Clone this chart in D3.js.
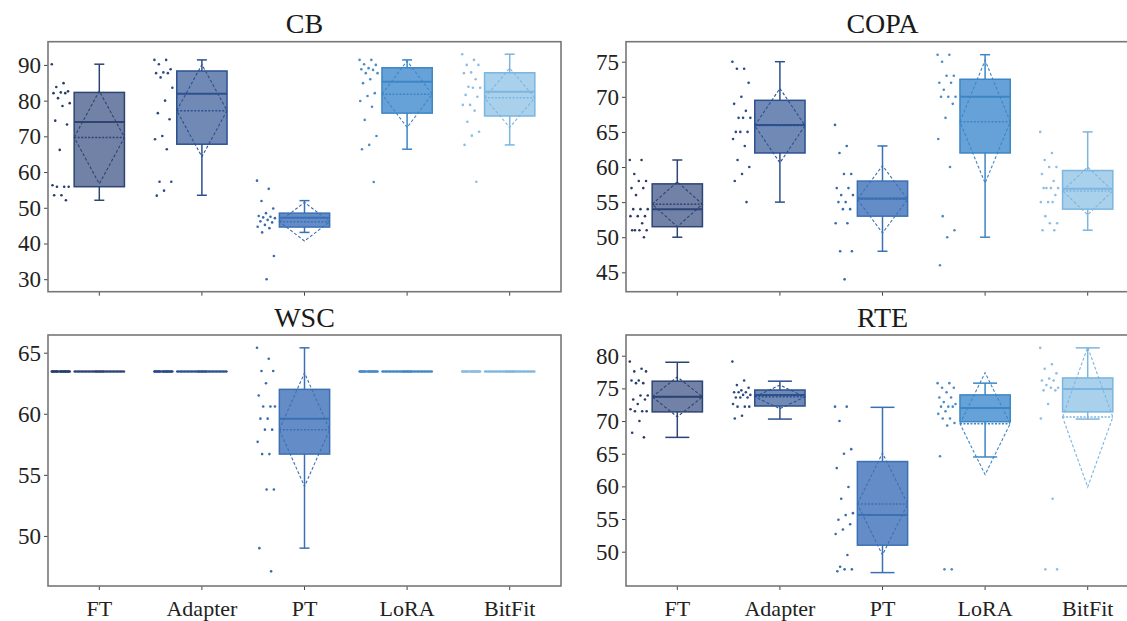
<!DOCTYPE html>
<html>
<head>
<meta charset="utf-8">
<script src="https://cdn.jsdelivr.net/npm/d3@7"></script>
<style>
  body { margin: 0; background: #fff; }
  svg { display: block; }
  text { font-family: "Liberation Serif", "Times New Roman", serif; }
</style>
</head>
<body>
<svg id="chart"></svg>
<script>
const methods = ["FT", "Adapter", "PT", "LoRA", "BitFit"];

// CB
const cbTicks = [30, 40, 50, 60, 70, 80, 90];
const cbScores = [
    [90.2, 84.9, 83.8, 82.6, 82.3, 82.1, 82.1, 80.7, 79.3, 78.5, 74.4, 73.3, 66.2, 56.3, 55.9, 55.9, 55.9, 53.5, 53.5, 52.1],
    [91.4, 91.4, 90.2, 88.8, 87.9, 87.7, 87.7, 86.5, 83.6, 80.0, 76.5, 74.8, 70.1, 69.2, 66.4, 57.3, 57.3, 54.8, 53.4],
    [57.6, 55.3, 51.9, 49.8, 48.5, 47.7, 47.5, 47.3, 47.1, 46.6, 46.2, 45.9, 45.2, 44.7, 44.3, 43.1, 36.5, 30.0],
    [91.4, 91.4, 90.2, 90.0, 89.1, 88.8, 88.6, 87.7, 87.7, 86.0, 84.9, 82.1, 81.3, 79.9, 78.3, 74.6, 70.1, 67.6, 66.4, 57.2],
    [93.0, 91.4, 90.0, 90.0, 87.9, 87.7, 86.0, 83.9, 83.6, 83.6, 81.6, 81.1, 78.8, 78.8, 77.2, 74.1, 71.3, 70.2, 67.6, 57.3]
];
const cbLow = [52.1, 53.5, 43.1, 66.4, 67.6];
const cbQ1 = [55.9, 67.8, 44.6, 76.5, 75.7];
const cbMedian = [74.0, 81.9, 47.2, 85.3, 82.5];
const cbMean = [69.7, 77.2, 46.1, 81.8, 80.8];
const cbQ3 = [82.3, 88.3, 48.5, 89.2, 87.8];
const cbHigh = [90.2, 91.4, 52.0, 91.4, 93.0];
const cbSpread = [13.0, 12.9, 5.4, 9.3, 8.3];

// COPA
const copaTicks = [45, 50, 55, 60, 65, 70, 75];
const copaScores = [
    [61, 61, 59, 58, 58, 57, 57, 56, 54, 54, 54, 53, 53, 53, 52, 51, 51, 51, 51, 50],
    [75, 74, 74, 72, 70, 69, 68, 67, 67, 67, 65, 65, 65, 64, 63, 61, 60, 59, 58, 55],
    [66, 63, 62, 59, 59, 57, 57, 56, 56, 55, 55, 54, 54, 52, 52, 48, 48, 44],
    [76, 76, 75, 73, 73, 72, 72, 71, 70, 70, 70, 69, 67, 64, 60, 53, 51, 50, 46],
    [65, 62, 61, 60, 60, 59, 58, 57, 57, 57, 57, 56, 55, 55, 55, 53, 52, 52, 51, 51]
];
const copaLow = [50, 55, 48, 50, 51];
const copaQ1 = [51.5, 62, 53, 62, 54];
const copaMedian = [54, 66, 55.5, 70, 56.9];
const copaMean = [54.7, 65.9, 55.4, 66.45, 56.6];
const copaQ3 = [57.6, 69.5, 58, 72.5, 59.5];
const copaHigh = [61, 75, 63, 76, 65];
const copaSpread = [3.2, 5.3, 4.8, 8.75, 3.4];

// WSC
const wscTicks = [50, 55, 60, 65];
const wscScores = [
    [63.46, 63.46, 63.46, 63.46, 63.46, 63.46, 63.46, 63.46, 63.46, 63.46, 63.46, 63.46, 63.46, 63.46, 63.46, 63.46, 63.46, 63.46, 63.46, 63.46],
    [63.46, 63.46, 63.46, 63.46, 63.46, 63.46, 63.46, 63.46, 63.46, 63.46, 63.46, 63.46, 63.46, 63.46, 63.46, 63.46, 63.46, 63.46, 63.46, 63.46],
    [65.4, 64.5, 63.5, 63.5, 62.5, 61.5, 60.6, 60.6, 60.6, 59.6, 59.6, 58.7, 58.7, 57.7, 56.7, 56.7, 53.8, 53.8, 49.0, 47.1],
    [63.46, 63.46, 63.46, 63.46, 63.46, 63.46, 63.46, 63.46, 63.46, 63.46, 63.46, 63.46, 63.46, 63.46, 63.46, 63.46, 63.46, 63.46, 63.46, 63.46],
    [63.46, 63.46, 63.46, 63.46, 63.46, 63.46, 63.46, 63.46, 63.46, 63.46, 63.46, 63.46, 63.46, 63.46, 63.46, 63.46, 63.46, 63.46, 63.46, 63.46]
];
const wscLow = [63.46, 63.46, 49.0, 63.46, 63.46];
const wscQ1 = [63.46, 63.46, 56.7, 63.46, 63.46];
const wscMedian = [63.46, 63.46, 59.6, 63.46, 63.46];
const wscMean = [63.46, 63.46, 58.7, 63.46, 63.46];
const wscQ3 = [63.46, 63.46, 62.0, 63.46, 63.46];
const wscHigh = [63.46, 63.46, 65.4, 63.46, 63.46];
const wscSpread = [0, 0, 4.65, 0, 0];

// RTE
const rteTicks = [50, 55, 60, 65, 70, 75, 80];
const rteScores = [
    [79.1, 78.0, 77.6, 77.6, 76.2, 76.2, 75.8, 75.8, 73.9, 73.9, 73.3, 73.3, 72.6, 71.8, 71.5, 71.5, 71.5, 70.0, 68.2, 67.5],
    [79.1, 76.2, 75.5, 75.1, 74.7, 74.4, 74.4, 74.4, 74.0, 74.0, 73.6, 73.6, 73.6, 72.6, 72.2, 72.2, 72.2, 70.8, 70.4],
    [72.2, 72.2, 70.0, 65.7, 65.0, 62.8, 59.9, 58.1, 55.9, 55.6, 54.9, 54.2, 53.4, 52.7, 49.5, 47.7, 47.3, 47.3, 47.0],
    [75.8, 75.8, 75.1, 75.1, 74.4, 73.6, 73.6, 72.9, 72.6, 72.2, 72.2, 72.2, 71.5, 71.1, 70.4, 70.4, 69.7, 69.3, 64.6, 47.3, 47.3],
    [81.2, 78.7, 78.0, 77.3, 76.5, 76.2, 76.2, 75.5, 75.1, 75.1, 74.7, 74.7, 72.6, 70.4, 58.1, 47.3, 47.3]
];
const rteLow = [67.5, 70.3, 46.8, 64.5, 70.3];
const rteQ1 = [71.4, 72.3, 51.0, 69.9, 71.4];
const rteMedian = [73.7, 74.0, 55.6, 72.0, 74.9];
const rteMean = [73.7, 73.7, 57.3, 69.6, 70.6];
const rteQ3 = [76.1, 74.75, 63.8, 74.0, 76.6];
const rteHigh = [79.0, 76.1, 72.1, 75.8, 81.2];
const rteSpread = [3.05, 1.8, 7.8, 7.8, 10.7];

// colours per method
const fills = ["#7281a6", "#7189b5", "#648dc7", "#66a2d7", "#aad1ec"];
const edges = ["#2d4474", "#2c5190", "#3b70b4", "#3d86c5", "#7cb5df"];
const dotColors = ["#283c68", "#2c4a86", "#3a6aad", "#4a8bc8", "#8dbde3"];

const width = 1127, height = 621;
const svg = d3.select("#chart").attr("width", width).attr("height", height);

const panels = [
    { title: "CB", left: 48, right: 561, top: 41.7, bottom: 291.7, titleY: 33, domain: [26.5, 96.5],
      ticks: cbTicks, scores: cbScores, low: cbLow, q1: cbQ1, median: cbMedian, mean: cbMean, q3: cbQ3, high: cbHigh, spread: cbSpread, cap: 10, labels: false },
    { title: "COPA", left: 626, right: 1139, top: 41.7, bottom: 291.7, titleY: 33, domain: [42.24, 77.85],
      ticks: copaTicks, scores: copaScores, low: copaLow, q1: copaQ1, median: copaMedian, mean: copaMean, q3: copaQ3, high: copaHigh, spread: copaSpread, cap: 10, labels: false },
    { title: "WSC", left: 48, right: 561, top: 335, bottom: 586, titleY: 327, domain: [45.9, 66.45],
      ticks: wscTicks, scores: wscScores, low: wscLow, q1: wscQ1, median: wscMedian, mean: wscMean, q3: wscQ3, high: wscHigh, spread: wscSpread, cap: 10, labels: true },
    { title: "RTE", left: 626, right: 1139, top: 335, bottom: 586, titleY: 327, domain: [44.75, 83.17],
      ticks: rteTicks, scores: rteScores, low: rteLow, q1: rteQ1, median: rteMedian, mean: rteMean, q3: rteQ3, high: rteHigh, spread: rteSpread, cap: 24, labels: true }
];

// deterministic horizontal spread for the raw points
const jitter = i => (((i * 0.618034) % 1) - 0.5) * 19;

panels.forEach(drawPanel);

function drawPanel(p) {
    const x = d3.scaleBand().domain(methods).range([p.left, p.right]);
    const y = d3.scaleLinear().domain(p.domain).range([p.bottom, p.top]);
    const bw = x.bandwidth() * 0.49;
    const g = svg.append("g");

    g.append("text")
        .attr("x", (p.left + p.right) / 2)
        .attr("y", p.titleY)
        .attr("text-anchor", "middle")
        .attr("font-size", 28)
        .attr("fill", "#1a1a1a")
        .text(p.title);

    const yAxis = g.append("g")
        .attr("transform", `translate(${p.left},0)`)
        .call(d3.axisLeft(y).tickValues(p.ticks).tickSize(4).tickPadding(3));
    yAxis.select(".domain").remove();
    yAxis.selectAll("line").attr("stroke", "#444");
    yAxis.selectAll("text").attr("font-size", 23).attr("fill", "#222")
        .style("font-family", "'Liberation Serif', serif");

    const xAxis = g.append("g")
        .attr("transform", `translate(0,${p.bottom})`)
        .call(d3.axisBottom(x).tickSize(4).tickFormat(p.labels ? null : ""));
    xAxis.select(".domain").remove();
    xAxis.selectAll("line").attr("stroke", "#444");
    xAxis.selectAll("text").attr("font-size", 22).attr("fill", "#222")
        .attr("y", 30).attr("dy", 0)
        .style("font-family", "'Liberation Serif', serif");

    methods.forEach((m, k) => {
        const c = x(m) + x.bandwidth() / 2;
        const l = c - bw / 2, r = c + bw / 2;
        const col = edges[k];

        // raw points
        g.append("g").selectAll("circle")
            .data(p.scores[k])
            .join("circle")
            .attr("cx", (d, i) => c - 38 + jitter(i))
            .attr("cy", d => y(d))
            .attr("r", 1.3)
            .attr("fill", dotColors[k]);

        // whisker
        g.append("line")
            .attr("x1", c).attr("x2", c)
            .attr("y1", y(p.low[k])).attr("y2", y(p.high[k]))
            .attr("stroke", col).attr("stroke-width", 1.5);
        [p.low[k], p.high[k]].forEach(v => {
            g.append("line")
                .attr("x1", c - p.cap / 2).attr("x2", c + p.cap / 2)
                .attr("y1", y(v)).attr("y2", y(v))
                .attr("stroke", col).attr("stroke-width", 1.5);
        });

        // box
        g.append("rect")
            .attr("x", l)
            .attr("y", y(p.q3[k]))
            .attr("width", bw)
            .attr("height", Math.max(y(p.q1[k]) - y(p.q3[k]), 0.001))
            .attr("fill", fills[k])
            .attr("stroke", col)
            .attr("stroke-width", 1.5);

        // median
        g.append("line")
            .attr("x1", l).attr("x2", r)
            .attr("y1", y(p.median[k])).attr("y2", y(p.median[k]))
            .attr("stroke", col).attr("stroke-width", 2);

        // mean
        g.append("line")
            .attr("x1", l).attr("x2", r)
            .attr("y1", y(p.mean[k])).attr("y2", y(p.mean[k]))
            .attr("stroke", col).attr("stroke-width", 1.5)
            .attr("stroke-dasharray", "2,1.5");

        // mean diamond
        const mu = p.mean[k], s = p.spread[k];
        const pts = [[l, y(mu)], [c, y(mu + s)], [r, y(mu)], [c, y(mu - s)]];
        g.append("path")
            .attr("d", d3.line()(pts) + "Z")
            .attr("fill", "none")
            .attr("stroke", col)
            .attr("stroke-width", 1.1)
            .attr("stroke-dasharray", "3,2");
    });

    // frame
    g.append("rect")
        .attr("x", p.left).attr("y", p.top)
        .attr("width", p.right - p.left).attr("height", p.bottom - p.top)
        .attr("fill", "none")
        .attr("stroke", "#777")
        .attr("stroke-width", 1.6);
}
</script>
</body>
</html>
